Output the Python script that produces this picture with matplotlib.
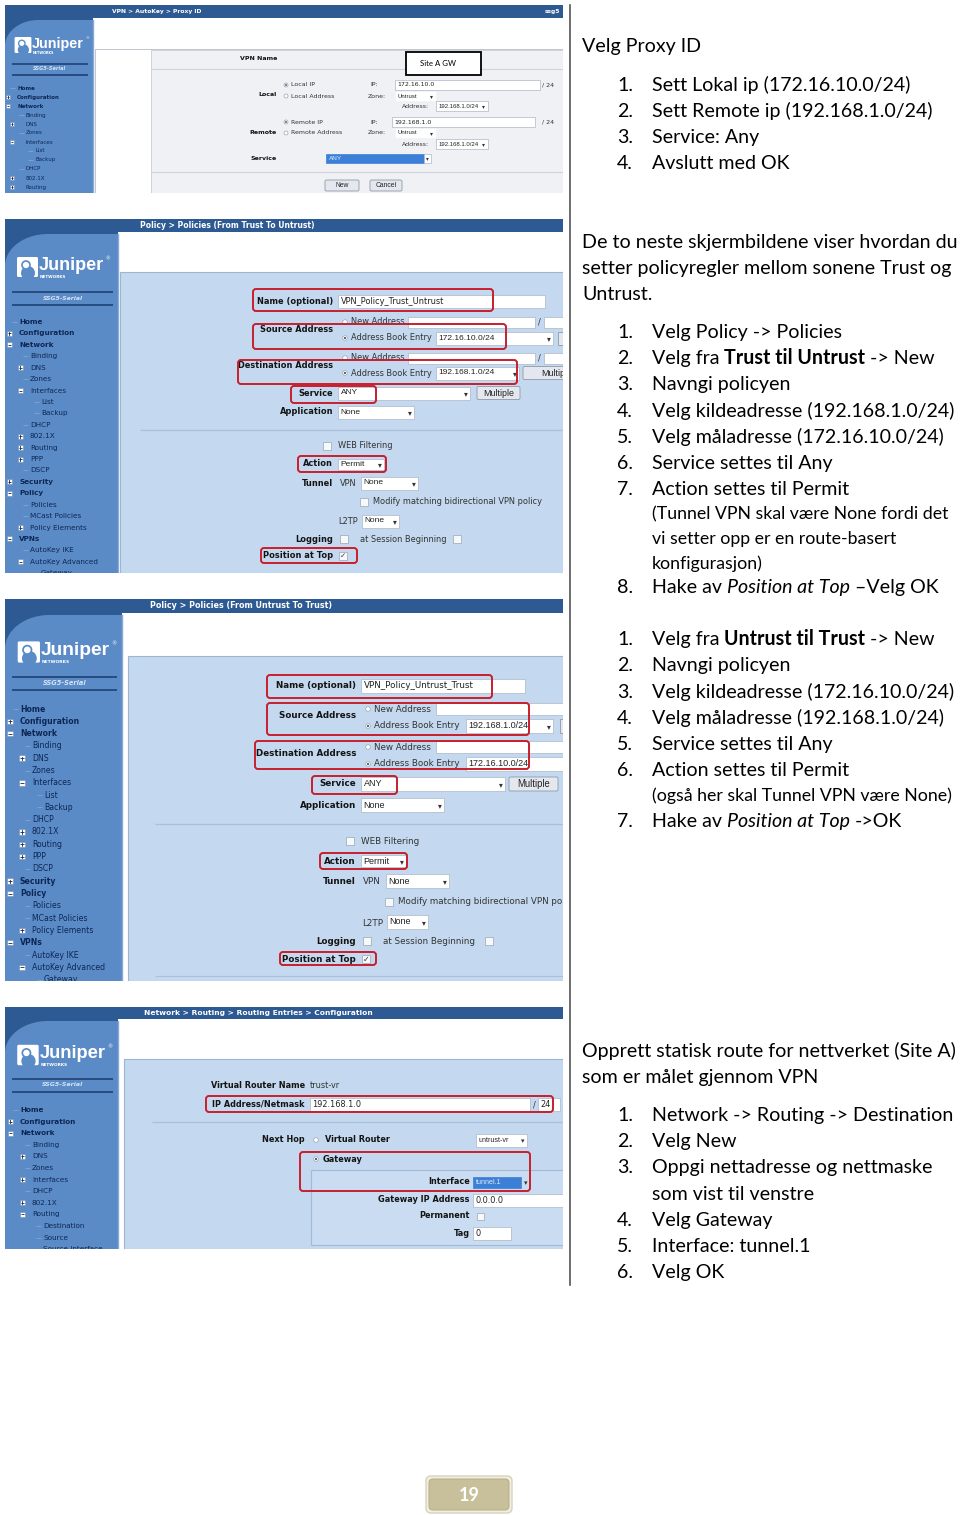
import numpy as np
import matplotlib
matplotlib.use("Agg")
import matplotlib.pyplot as plt
from matplotlib.patches import Rectangle, FancyBboxPatch, Circle, Polygon
from matplotlib.transforms import Bbox, TransformedBbox

# ---------------- text content (data) ----------------
proxy_title = ["Velg Proxy ID"]
proxy_steps = [[("Sett Lokal ip (172.16.10.0/24)", "n")],
               [("Sett Remote ip (192.168.1.0/24)", "n")],
               [("Service: Any", "n")],
               [("Avslutt med OK", "n")]]
policy_intro = ["De to neste skjermbildene viser hvordan du",
                "setter policyregler mellom sonene Trust og",
                "Untrust."]
policy_tu_steps = [[("Velg Policy -> Policies", "n")],
                   [("Velg fra ", "n"), ("Trust til Untrust ", "b"), ("-> New", "n")],
                   [("Navngi policyen", "n")],
                   [("Velg kildeadresse (192.168.1.0/24)", "n")],
                   [("Velg måladresse (172.16.10.0/24)", "n")],
                   [("Service settes til Any", "n")],
                   [("Action settes til Permit", "n")],
                   [("Hake av ", "n"), ("Position at Top ", "i"), ("–Velg OK", "n")]]
policy_tu_note = ["(Tunnel VPN skal være None fordi det",
                  "vi setter opp er en route-basert",
                  "konfigurasjon)"]
policy_ut_steps = [[("Velg fra ", "n"), ("Untrust til Trust ", "b"), ("-> New", "n")],
                   [("Navngi policyen", "n")],
                   [("Velg kildeadresse (172.16.10.0/24)", "n")],
                   [("Velg måladresse (192.168.1.0/24)", "n")],
                   [("Service settes til Any", "n")],
                   [("Action settes til Permit", "n")],
                   [("Hake av ", "n"), ("Position at Top ", "i"), ("->OK", "n")]]
policy_ut_note = ["(også her skal Tunnel VPN være None)"]
route_intro = ["Opprett statisk route for nettverket (Site A)",
               "som er målet gjennom VPN"]
route_steps = [[("Network -> Routing -> Destination", "n")],
               [("Velg New", "n")],
               [("Oppgi nettadresse og nettmaske", "n")],
               [("Velg Gateway", "n")],
               [("Interface: tunnel.1", "n")],
               [("Velg OK", "n")]]
route_cont = "som vist til venstre"
page_number = "19"

screen_titles = ["VPN > AutoKey > Proxy ID",
                 "Policy > Policies (From Trust To Untrust)",
                 "Policy > Policies (From Untrust To Trust)",
                 "Network > Routing > Routing Entries > Configuration"]
serial_name = "SSG5-Serial"
menu_proxy = [("Home", 0, 1, None), ("Configuration", 0, 1, "+"), ("Network", 0, 1, "-"),
              ("Binding", 1, 0, None), ("DNS", 1, 0, "+"), ("Zones", 1, 0, None),
              ("Interfaces", 1, 0, "-"), ("List", 2, 0, None), ("Backup", 2, 0, None),
              ("DHCP", 1, 0, None), ("802.1X", 1, 0, "+"), ("Routing", 1, 0, "+"),
              ("PPP", 1, 0, "+")]
menu_policy = menu_proxy + [("DSCP", 1, 0, None), ("Security", 0, 1, "+"), ("Policy", 0, 1, "-"),
                            ("Policies", 1, 0, None), ("MCast Policies", 1, 0, None),
                            ("Policy Elements", 1, 0, "+"), ("VPNs", 0, 1, "-"),
                            ("AutoKey IKE", 1, 0, None), ("AutoKey Advanced", 1, 0, "-"),
                            ("Gateway", 2, 0, None)]
menu_route = [("Home", 0, 1, None), ("Configuration", 0, 1, "+"), ("Network", 0, 1, "-"),
              ("Binding", 1, 0, None), ("DNS", 1, 0, "+"), ("Zones", 1, 0, None),
              ("Interfaces", 1, 0, "+"), ("DHCP", 1, 0, None), ("802.1X", 1, 0, "+"),
              ("Routing", 1, 0, "-"), ("Destination", 2, 0, None), ("Source", 2, 0, None),
              ("Source Interface", 2, 0, None)]

proxy_vpn_name = "Site A GW"
proxy_local_ip = "172.16.10.0"
proxy_remote_ip = "192.168.1.0"
proxy_mask = "24"
proxy_zone = "Untrust"
proxy_addr = "192.168.1.0/24"
proxy_service = "ANY"

policy_names = ["VPN_Policy_Trust_Untrust", "VPN_Policy_Untrust_Trust"]
policy_src = ["172.16.10.0/24", "192.168.1.0/24"]
policy_dst = ["192.168.1.0/24", "172.16.10.0/24"]
policy_service = "ANY"
policy_app = "None"
policy_action = "Permit"
policy_vpn = "None"
policy_l2tp = "None"

route_vr = "trust-vr"
route_net = "192.168.1.0"
route_mask = "24"
route_next_vr = "untrust-vr"
route_iface = "tunnel.1"
route_gw = "0.0.0.0"
route_tag = "0"

# ---------------- styling ----------------
HEAD = "#2d5a92"
SIDE = "#5b8bc6"
NAVY = "#0d2755"
LINE_DK = "#22477b"
PANEL = "#c4d9ef"
PANEL_EDGE = "#9db5d2"
RED = "#c81e2c"
LBL = "#141414"
INP_EDGE = "#aab6c6"
BODY = ["Lato", "DejaVu Sans"]
UI = ["DejaVu Sans"]
SEL = ["Liberation Sans", "DejaVu Sans"]

W, H = 960, 1515
fig = plt.figure(figsize=(9.6, 15.15), dpi=100)
ax = fig.add_axes([0, 0, 1, 1])
ax.set_xlim(0, W)
ax.set_ylim(H, 0)
ax.axis("off")
renderer = fig.canvas.get_renderer()

CLIP = [None, None]


def _clip(a, is_text=False):
    if CLIP[0] is None:
        return
    if is_text:
        a.set_clip_box(CLIP[1])
        a.set_clip_on(True)
    else:
        a.set_clip_path(CLIP[0])


def T(x, y, s, fs, color=NAVY, weight="normal", ha="left", style="normal",
      family=UI, va="center", z=5):
    t = ax.text(x, y, s, fontsize=fs, color=color, fontweight=weight, ha=ha, va=va,
                fontstyle=style, family=family, zorder=z)
    _clip(t, True)
    return t


def R(x0, y0, x1, y1, fc="white", ec="none", lw=0.6, z=2, rnd=0):
    if rnd:
        p = FancyBboxPatch((x0, y0), x1 - x0, y1 - y0,
                           boxstyle=f"round,pad=0,rounding_size={rnd}",
                           fc=fc, ec=ec, lw=lw, zorder=z)
    else:
        p = Rectangle((x0, y0), x1 - x0, y1 - y0, fc=fc, ec=ec, lw=lw, zorder=z)
    ax.add_patch(p)
    _clip(p)
    return p


def HL(x0, x1, y, color, lw=0.8, z=3):
    l, = ax.plot([x0, x1], [y, y], color=color, lw=lw, zorder=z, solid_capstyle="butt")
    _clip(l)


def logo(x, yc, s):
    R(x, yc - 10 * s, x + 21 * s, yc + 10 * s, "white", z=4, rnd=1.5 * s)
    c = Circle((x + 11 * s, yc + 6 * s), 7 * s, fc=SIDE, ec="none", zorder=5)
    ax.add_patch(c); _clip(c)
    c2 = Circle((x + 9 * s, yc - 2 * s), 4 * s, fc="white", ec=SIDE, lw=1.2 * s, zorder=5)
    ax.add_patch(c2); _clip(c2)
    T(x + 22 * s, yc - 1.5 * s, "Juniper", 13.0 * s, "white", "bold",
      family=["Liberation Sans", "DejaVu Sans"])
    T(x + 23 * s, yc + 9.5 * s, "NETWORKS", 3.0 * s, "white", "bold")
    T(x + 88 * s, yc - 8 * s, "®", 3.5 * s, "white")


def frame(x0, y0, x1, y1, hh, sw, title, tx, tfs, logo_y, logo_s, ser_y, ser_fs, ser_gap, ry):
    CLIP[0] = Rectangle((x0, y0), x1 - x0, y1 - y0, transform=ax.transData)
    CLIP[1] = TransformedBbox(Bbox.from_extents(x0, y0, x1, y1), ax.transData)
    R(x0, y0, x1, y1, "white", z=1)
    R(x0, y0, x1, y0 + hh, HEAD, z=2)
    T(tx, y0 + hh / 2, title, tfs, "white", "bold")
    R(x0, y0 + hh, x0 + sw, y1, HEAD, z=2)
    xs = x0 + sw
    top = y0 + hh + 2
    rx = sw * 0.38
    t = np.linspace(np.pi, 1.5 * np.pi, 40)
    arc = np.column_stack([x0 + rx + rx * np.cos(t), top + ry + ry * np.sin(t)])
    pts = np.vstack([[x0, y1], arc, [xs, top], [xs, y1]])
    P = Polygon(pts, closed=True, fc=SIDE, ec="none", zorder=2)
    ax.add_patch(P); _clip(P)
    l, = ax.plot([xs, xs], [top, y1], color="#86a9d6", lw=1.0, zorder=3); _clip(l)
    logo(x0 + 12 * logo_s, logo_y, logo_s)
    lx0, lx1 = x0 + 7, x0 + sw - 5
    HL(lx0, lx1, ser_y - ser_gap, LINE_DK, 1.3)
    HL(lx0, lx1, ser_y + ser_gap, LINE_DK, 1.3)
    T((lx0 + lx1) / 2, ser_y, serial_name, ser_fs, "#d3e2f5", "bold", ha="center", style="italic")


def menu(items, y0, pitch, xl, xm, fs, bsz):
    for i, (lab, lvl, bold, mk) in enumerate(items):
        y = y0 + i * pitch
        T(xl[lvl], y, lab, fs, NAVY, "bold" if bold else "normal")
        if mk:
            R(xm[lvl] - bsz / 2, y - bsz / 2, xm[lvl] + bsz / 2, y + bsz / 2, "white",
              ec="#6f88ad", lw=0.4, z=4)
            HL(xm[lvl] - bsz * 0.3, xm[lvl] + bsz * 0.3, y, NAVY, 0.6, z=5)
            if mk == "+":
                l, = ax.plot([xm[lvl], xm[lvl]], [y - bsz * 0.3, y + bsz * 0.3], color=NAVY,
                             lw=0.6, zorder=5); _clip(l)
        elif lvl > 0 or lab == "Home":
            HL(xl[lvl] - 7, xl[lvl] - 2, y, "#8eaad0", 0.5)


def inp(x0, y0, x1, y1, text=None, fs=5.0, arrow=False, fc="white", tc="#222222",
        ec=INP_EDGE, fam=None):
    R(x0, y0, x1, y1, fc, ec, 0.5, z=3)
    if fam is None:
        fam = SEL if arrow else UI
    if text:
        T(x0 + 2.5, (y0 + y1) / 2, text, fs * (1.02 if fam is SEL else 1.0), tc, family=fam)
    if arrow:
        T(x1 - 4.5, (y0 + y1) / 2 + 0.5, "▾", min(fs, 5.5), "#333333", ha="center")


def btn(x0, y0, x1, y1, text, fs):
    R(x0, y0, x1, y1, "#e4e8ee", "#8d99aa", 0.6, z=3, rnd=1.5)
    T((x0 + x1) / 2, (y0 + y1) / 2, text, fs * 1.08, "#222222", ha="center", family=SEL)


def redbox(x0, y0, x1, y1):
    R(x0, y0, x1, y1, "none", RED, 1.4, z=7, rnd=3)


def radio(x, y, r, checked):
    c = Circle((x, y), r, fc="white", ec="#9aa5b5", lw=0.5, zorder=4)
    ax.add_patch(c); _clip(c)
    if checked:
        c = Circle((x, y), r * 0.45, fc="#444444", ec="none", zorder=5)
        ax.add_patch(c); _clip(c)


def chk(x, y, s, checked, fs=4.5):
    R(x - s / 2, y - s / 2, x + s / 2, y + s / 2, "#f7f8fa", "#9aa5b5", 0.5, z=4)
    if checked:
        T(x, y, "✓", fs, "#333333", ha="center")


def lbl(xr, y, text, fs):
    T(xr, y, text, fs, LBL, "bold", ha="right")


# =============== Screenshot 1: Proxy ID ===============
frame(5, 5, 563, 193, 13, 88, screen_titles[0], 112, 4.3, 45, 0.8, 69, 3.6, 5.5, 26)
T(545, 11.5, "ssg5", 4.3, "white", "bold")
menu(menu_proxy, 88, 9.0, [17, 26, 35], [8, 12, 12], 4.0, 4)
R(95, 49, 563, 193, "white", ec="#b5bcc6", lw=0.6, z=2)
R(151, 50, 563, 193, "#eff1f4", ec="#c8cdd4", lw=0.6, z=2)
HL(151, 563, 69, "#cfd4da", 0.8)
HL(151, 563, 172, "#cfd4da", 0.8)
f1 = 4.5
lbl(277, 58, "VPN Name", f1)
R(406, 52, 481, 75, "white", ec="black", lw=1.3, z=6)
T(420, 64, proxy_vpn_name, 5.6, "black", family=BODY, z=7)
radio(286, 85, 2.0, True); T(291, 85, "Local IP", f1, "#333333")
T(378, 85, "IP:", f1, "#333333", ha="right")
inp(395, 80, 540, 90, proxy_local_ip, f1)
T(542, 85, "/ " + proxy_mask, f1, "#333333")
lbl(277, 95, "Local", f1)
radio(286, 96, 2.0, False); T(291, 96, "Local Address", f1, "#333333")
T(386, 96, "Zone:", f1, "#333333", ha="right")
inp(395, 91, 436, 101, proxy_zone, 4.2, arrow=True, ec="#eff1f4")
T(429, 106, "Address:", f1, "#333333", ha="right")
inp(436, 101, 488, 111, proxy_addr, 4.2, arrow=True)
radio(286, 122, 2.0, True); T(291, 122, "Remote IP", f1, "#333333")
T(378, 122, "IP:", f1, "#333333", ha="right")
inp(392, 117, 535, 127, proxy_remote_ip, f1)
T(542, 122, "/ " + proxy_mask, f1, "#333333")
lbl(277, 132, "Remote", f1)
radio(286, 133, 2.0, False); T(291, 133, "Remote Address", f1, "#333333")
T(386, 133, "Zone:", f1, "#333333", ha="right")
inp(395, 128, 436, 138, proxy_zone, 4.2, arrow=True, ec="#eff1f4")
T(429, 144, "Address:", f1, "#333333", ha="right")
inp(436, 139, 488, 149, proxy_addr, 4.2, arrow=True)
lbl(277, 158, "Service", f1)
inp(326, 154, 424, 163, proxy_service, f1, fc="#3b7fd6", tc="#d8e8ff", ec="#3b7fd6", fam=SEL)
inp(424, 154, 431, 163, None, f1, arrow=False)
T(427.5, 158.5, "▾", 4.0, "#333333", ha="center")
btn(325, 180, 359, 191, "New", f1)
btn(370, 180, 402, 191, "Cancel", f1)


# =============== Policy screenshots ===============
def policy_screen(k, x0, y0, y1, hh, sw, tx, tfs, logo_y, logo_s, ser_y, ser_gap, ry,
                  m_y0, m_pitch, m_xl, m_xm, m_fs, bsz, L):
    frame(x0, y0, 563, y1, hh, sw, screen_titles[k], tx, tfs, logo_y, logo_s, ser_y,
          m_fs * 0.85, ser_gap, ry)
    menu(menu_policy, m_y0, m_pitch, m_xl, m_xm, m_fs, bsz)
    R(L["px"], L["py"], 563, y1, PANEL, ec=PANEL_EDGE, lw=0.8, z=2)
    fs = L["fs"]
    xr = L["xr"]
    xi = xr + 5
    h = L["h"]
    # name
    y = L["name"]
    lbl(xr, y, "Name (optional)", fs)
    inp(xi, y - h / 2, L["name_end"], y + h / 2, policy_names[k - 1], fs)
    redbox(*L["r_name"])
    # source / destination
    for which, yl, yn, ya, vals, rb in (("Source Address", L["src"], L["src_new"], L["src_ab"], policy_src, L["r_src"]),
                                         ("Destination Address", L["dst"], L["dst_new"], L["dst_ab"], policy_dst, L["r_dst"])):
        lbl(xr, yl, which, fs)
        radio(xi + 7, yn, 2.3, False)
        T(xi + 13, yn, "New Address", fs, "#333333")
        inp(L["new_x0"], yn - h / 2 + 1, L["new_x1"], yn + h / 2 - 1, None)
        if L.get("slash"):
            T(L["slash"], yn, "/", fs, "#333333")
            inp(L["slash"] + 6, yn - h / 2 + 1, 570, yn + h / 2 - 1, None)
        radio(xi + 7, ya, 2.3, True)
        T(xi + 13, ya, "Address Book Entry", fs, "#333333")
        inp(L["ab_x0"], ya - h / 2, L["ab_x1"] if which == "Source Address" else L["ab2_x1"],
            ya + h / 2, vals[k - 1], fs, arrow=True)
        redbox(*rb)
    R(L["src_btn"], L["src_ab"] - h / 2, 575, L["src_ab"] + h / 2, "#e4e8ee", "#8d99aa", 0.6, z=3)
    if L.get("dst_btn"):
        btn(L["dst_btn"], L["dst_ab"] - h / 2, 590, L["dst_ab"] + h / 2, "Multiple", fs)
    # service
    y = L["svc"]
    lbl(xr, y, "Service", fs)
    inp(xi, y - h / 2, L["svc_end"], y + h / 2, policy_service, fs, arrow=True)
    btn(L["svc_btn"][0], y - h / 2, L["svc_btn"][1], y + h / 2, "Multiple", fs)
    redbox(*L["r_svc"])
    y = L["app"]
    lbl(xr, y, "Application", fs)
    inp(xi, y - h / 2, L["app_end"], y + h / 2, policy_app, fs, arrow=True)
    HL(L["sep_x"], 563, L["sep"], "#a9c0da", 0.9)
    y = L["web"]
    chk(L["web_x"], y, h * 0.55, False)
    T(L["web_x"] + 11, y, "WEB Filtering", fs, "#333333")
    y = L["act"]
    lbl(xr, y, "Action", fs)
    inp(xi, y - h / 2 + 1, L["act_end"], y + h / 2 - 1, policy_action, fs, arrow=True)
    redbox(*L["r_act"])
    y = L["tun"]
    lbl(xr, y, "Tunnel", fs)
    T(xi + 2, y + 1, "VPN", fs, "#333333")
    inp(L["vpn_x0"], y - h / 2, L["vpn_x1"], y + h / 2, policy_vpn, fs, arrow=True)
    y = L["mod"]
    chk(L["mod_x"], y, h * 0.55, False)
    T(L["mod_x"] + 9, y, "Modify matching bidirectional VPN policy", fs, "#333333")
    y = L["l2tp"]
    T(L["l2tp_x"], y + 1, "L2TP", fs, "#333333", ha="right")
    inp(L["l2tp_x"] + 4, y - h / 2, L["l2tp_x1"], y + h / 2, policy_l2tp, fs, arrow=True)
    y = L["log"]
    lbl(xr, y, "Logging", fs)
    chk(xi + 6, y, h * 0.55, False)
    T(xi + 22, y, "at Session Beginning", fs, "#333333")
    chk(L["log_x2"], y, h * 0.55, False)
    y = L["pos"]
    lbl(xr, y, "Position at Top", fs)
    chk(xi + 5, y, h * 0.55, True, fs * 0.9)
    redbox(*L["r_pos"])


L2 = dict(px=120, py=272, fs=5.95, xr=333, h=13,
          name=301, name_end=545, r_name=(253, 289, 493, 311),
          src=329, src_new=322, src_ab=338, dst=365, dst_new=358, dst_ab=373,
          new_x0=408, new_x1=535, slash=538,
          ab_x0=436, ab_x1=553, ab2_x1=519, src_btn=558, dst_btn=523,
          r_src=(253, 324, 506, 349), r_dst=(238, 360, 517, 384),
          svc=393, svc_end=470, svc_btn=(477, 520), r_svc=(291, 386, 376, 403),
          app=412, app_end=414, sep=430, sep_x=140,
          web=446, web_x=327, act=464, act_end=384, r_act=(298, 456, 386, 472),
          tun=483, vpn_x0=361, vpn_x1=418, mod=502, mod_x=364,
          l2tp=521, l2tp_x=358, l2tp_x1=399, log=539, log_x2=457,
          pos=556, r_pos=(261, 548, 357, 563))
policy_screen(1, 5, 219, 573, 13, 113, 140, 5.5, 267, 1.0, 298, 6.5, 32,
              322, 11.42, [19, 30, 41], [9, 20, 20], 5.2, 5, L2)

L3 = dict(px=128, py=656, fs=6.35, xr=356, h=14,
          name=686, name_end=525, r_name=(267, 675, 492, 698),
          src=716, src_new=709, src_ab=726, dst=754, dst_new=747, dst_ab=764,
          new_x0=436, new_x1=570, slash=None,
          ab_x0=466, ab_x1=553, ab2_x1=570, src_btn=560, dst_btn=None,
          r_src=(267, 703, 529, 735), r_dst=(255, 741, 529, 769),
          svc=784, svc_end=505, svc_btn=(509, 558), r_svc=(312, 776, 397, 794),
          app=805, app_end=444, sep=824, sep_x=155,
          web=841, web_x=350, act=861, act_end=406, r_act=(320, 853, 407, 869),
          tun=881, vpn_x0=386, vpn_x1=449, mod=902, mod_x=389,
          l2tp=922, l2tp_x=383, l2tp_x1=428, log=941, log_x2=489,
          pos=959, r_pos=(280, 952, 376, 965))
policy_screen(2, 5, 599, 981, 14, 117, 150, 5.8, 652, 1.06, 683, 6.5, 34,
              709, 12.3, [20, 32, 44], [10, 22, 22], 5.6, 5.5, L3)
HL(155, 563, 976, "#a9c0da", 0.8)

# =============== Screenshot 4: Routing ===============
frame(5, 1007, 563, 1249, 12, 113, screen_titles[3], 144, 5.4, 1055, 1.02, 1085, 4.5, 6.5, 32)
menu(menu_route, 1110, 11.6, [20, 32, 43], [10, 22, 22], 5.2, 5)
R(124, 1059, 563, 1249, PANEL, ec=PANEL_EDGE, lw=0.8, z=2)
f4 = 5.9
lbl(305, 1086, "Virtual Router Name", f4)
T(310, 1086, route_vr, f4, "#333333")
lbl(305, 1104, "IP Address/Netmask", f4)
inp(310, 1098, 530, 1111, route_net, f4)
T(533, 1105, "/", f4, "#333333")
inp(538, 1098, 560, 1111, route_mask, f4)
redbox(206, 1096, 553, 1112)
HL(152, 563, 1122, "#a9c0da", 0.9)
lbl(305, 1140, "Next Hop", f4)
radio(316, 1140, 2.3, False)
T(325, 1140, "Virtual Router", f4, LBL, "bold")
inp(476, 1134, 527, 1147, route_next_vr, 5.0, arrow=True)
radio(316, 1159, 2.3, True)
T(323, 1159, "Gateway", f4, LBL, "bold")
R(311, 1170, 575, 1245, "#c9dcf1", ec="#a3bad6", lw=0.8, z=2)
lbl(470, 1182, "Interface", f4)
inp(473, 1177, 521, 1188, route_iface, 5.0, fc="#3b7fd6", tc="#dce9ff", ec="#3b7fd6", fam=SEL)
T(526, 1183, "▾", 5.0, "#333333", ha="center")
redbox(300, 1152, 530, 1191)
lbl(470, 1200, "Gateway IP Address", f4)
inp(473, 1194, 570, 1207, route_gw, f4)
lbl(470, 1216, "Permanent", f4)
chk(480, 1216, 7, False)
lbl(470, 1233, "Tag", f4)
inp(473, 1227, 511, 1240, route_tag, f4)

CLIP[0] = None
CLIP[1] = None

# =============== divider ===============
ax.plot([570, 570], [5, 1285], color="#555555", lw=1.2, zorder=2)


# =============== right-hand text ===============
def width_of(s, fs, weight="normal", style="normal"):
    t1 = ax.text(0, 0, s + "|", fontsize=fs, fontweight=weight, fontstyle=style, family=BODY)
    t2 = ax.text(0, 0, "|", fontsize=fs, fontweight=weight, fontstyle=style, family=BODY)
    w = t1.get_window_extent(renderer).width - t2.get_window_extent(renderer).width
    t1.remove(); t2.remove()
    return w


BFS = 10 * 377 / width_of(policy_intro[0], 10)
NFS = 10 * 297 / width_of(policy_tu_note[0], 10)
WMAP = {"n": ("normal", "normal"), "b": ("bold", "normal"), "i": ("normal", "italic")}


def rich(x, y, segs, fs):
    for s, k in segs:
        w, st = WMAP[k]
        ax.text(x, y, s, fontsize=fs, fontweight=w, fontstyle=st, family=BODY,
                va="baseline", color="black", zorder=5)
        x += width_of(s, fs, w, st)


XH, XN, XT = 582, 617, 652
BL = 7  # baseline offset from line centre


def head(y, s):
    rich(XH, y + BL, [(s, "n")], BFS)


def item(y, n, segs):
    ax.text(XN, y + BL, f"{n}.", fontsize=BFS, family=BODY, va="baseline", color="black")
    rich(XT, y + BL, segs, BFS)


def note(y, s):
    rich(XT, y + BL - 0.5, [(s, "n")], NFS)


head(45, proxy_title[0])
for i, segs in enumerate(proxy_steps):
    item(84 + 26 * i, i + 1, segs)

for i, s in enumerate(policy_intro):
    head(241 + 26 * i, s)
for i, segs in enumerate(policy_tu_steps[:7]):
    item(331 + 26.2 * i, i + 1, segs)
for i, s in enumerate(policy_tu_note):
    note(513 + 24.5 * i, s)
item(586, 8, policy_tu_steps[7])

for i, segs in enumerate(policy_ut_steps[:6]):
    item(638 + 26.3 * i, i + 1, segs)
note(795, policy_ut_note[0])
item(820, 7, policy_ut_steps[6])

for i, s in enumerate(route_intro):
    head(1050 + 26 * i, s)
for i, segs in enumerate(route_steps[:3]):
    item(1114 + 26.2 * i, i + 1, segs)
rich(XT, 1193 + BL, [(route_cont, "n")], BFS)
for i, segs in enumerate(route_steps[3:]):
    item(1219 + 26.2 * i, i + 4, segs)

# =============== page number ===============
R(426, 1476, 512, 1513, "#f1efe4", ec="#d8d3bb", lw=1.0, z=2, rnd=5)
R(429, 1479, 509, 1510, "#c8c09b", ec="#b9b18b", lw=0.8, z=3, rnd=4)
ax.text(469, 1495.5, page_number, fontsize=13, fontweight="bold", color="white",
        family=BODY, ha="center", va="center", zorder=5)

fig.savefig("out.png", dpi=100)
